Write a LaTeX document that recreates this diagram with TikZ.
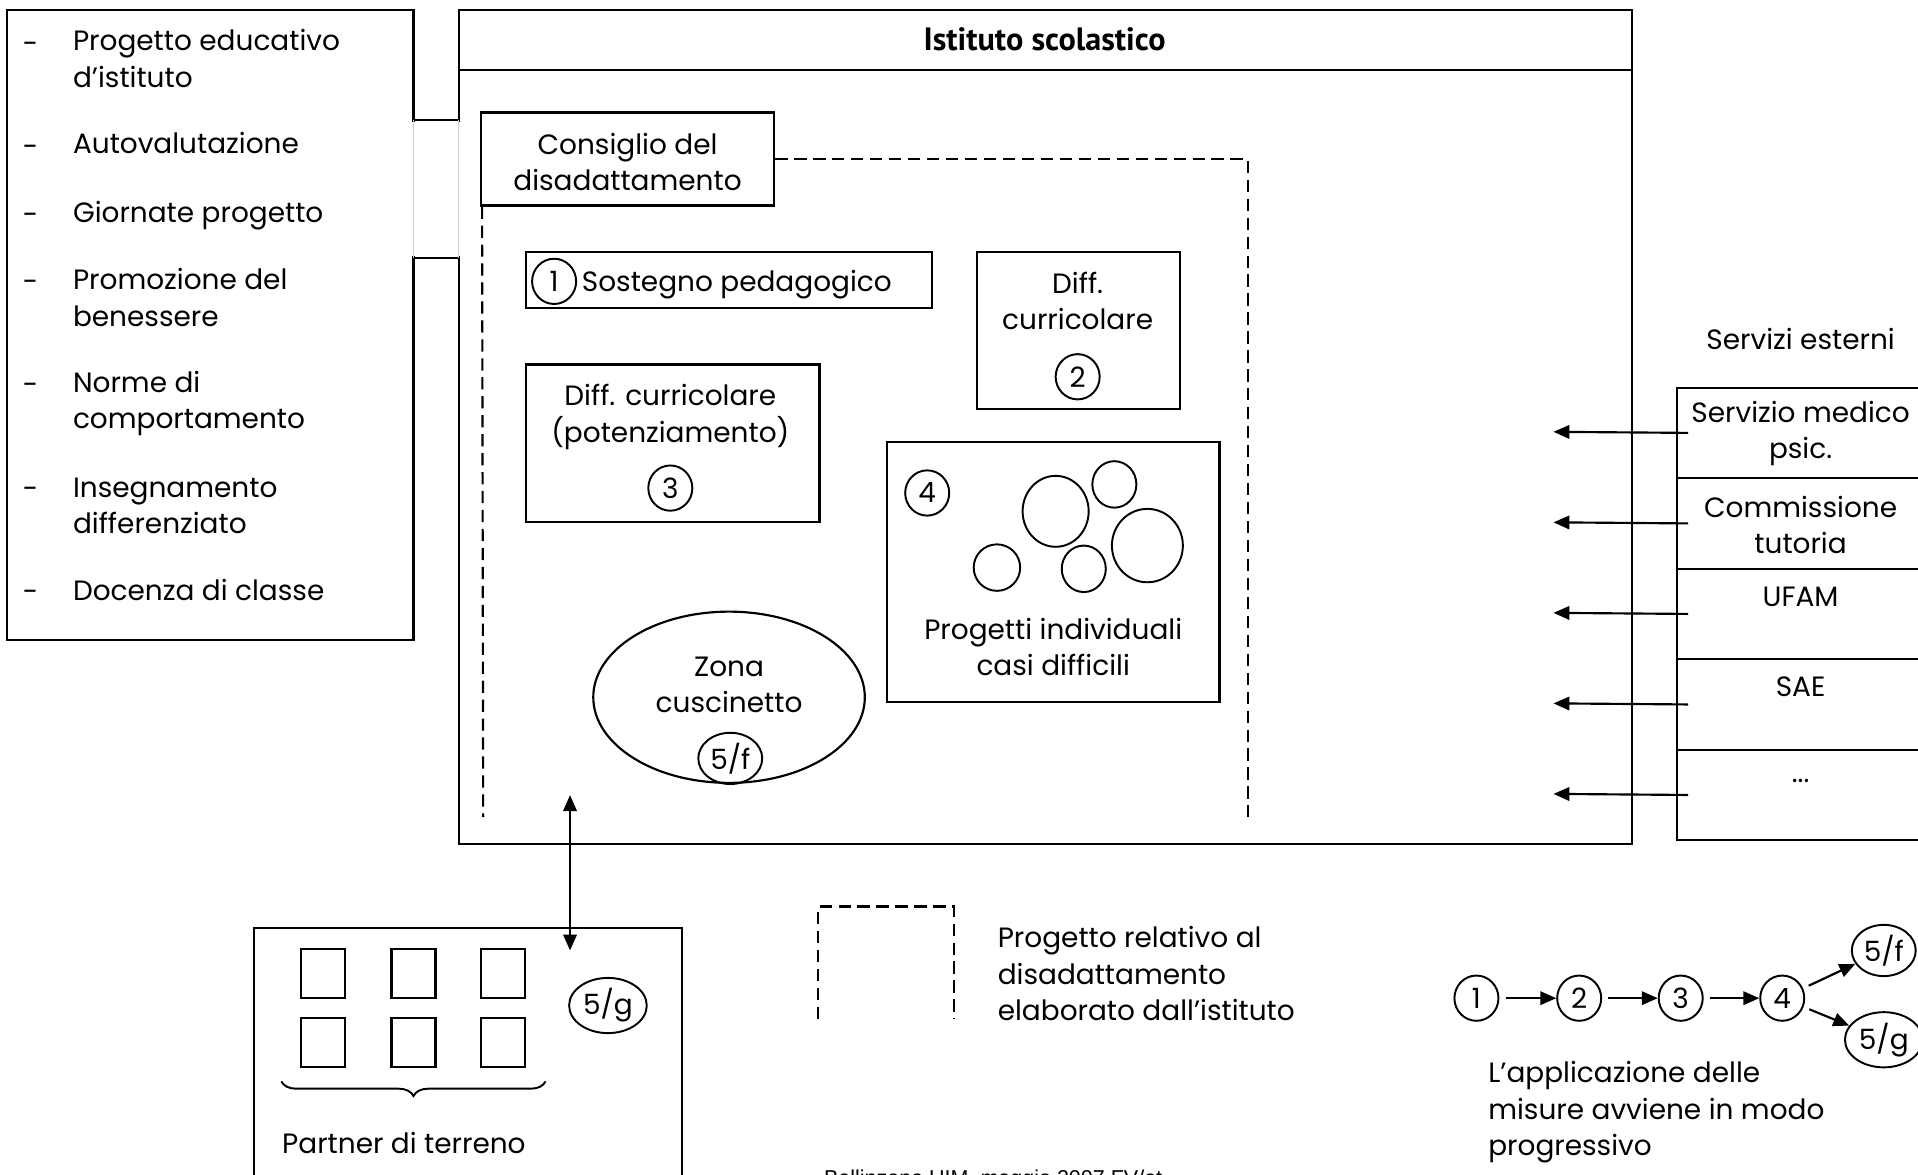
\documentclass[tikz,border=0pt]{standalone}
\usepackage{fontspec}
\setmainfont{Poppins}
\newfontfamily\titolofont{PT Sans}
\newfontfamily\piedefont{Liberation Sans}
\usetikzlibrary{shapes.geometric,arrows.meta,decorations.pathreplacing,calc}

\tikzset{
  testo/.style={font=\fontsize{6.5}{8.5}\selectfont, inner sep=0pt},
  riquadro/.style={draw, line width=0.5pt, inner sep=0pt},
  numero/.style={draw, ellipse, line width=0.45pt, inner sep=0.6pt, minimum width=0.36cm, minimum height=0.37cm, font=\fontsize{6.5}{8.5}\selectfont},
  tratteggio/.style={line width=0.5pt, dash pattern=on 1mm off 0.55mm},
  freccia/.style={->, line width=0.5pt},
}

\begin{document}
\begin{tikzpicture}[>={Triangle[length=1.3mm,width=1.1mm]}]
    \useasboundingbox (0,0) rectangle (15.68,-9.60);

    %%%%%%%%% Elenco a sinistra %%%%%%%%%
    \node[riquadro, minimum width=3.32cm, minimum height=5.15cm] (lista) at (1.72,-2.655) {};
    \node[testo] (t1) at (0.25,-0.39) {-};
    \node[testo, anchor=west, align=left] (v1) at (0.59,-0.48) {Progetto educativo\\d’istituto};
    \node[testo] (t2) at (0.25,-1.23) {-};
    \node[testo, anchor=west] (v2) at (0.59,-1.17) {Autovalutazione};
    \node[testo] (t3) at (0.25,-1.79) {-};
    \node[testo, anchor=west] (v3) at (0.59,-1.76) {Giornate progetto};
    \node[testo] (t4) at (0.25,-2.34) {-};
    \node[testo, anchor=west, align=left] (v4) at (0.59,-2.43) {Promozione del\\benessere};
    \node[testo] (t5) at (0.25,-3.18) {-};
    \node[testo, anchor=west, align=left] (v5) at (0.59,-3.30) {Norme di\\comportamento};
    \node[testo] (t6) at (0.25,-4.03) {-};
    \node[testo, anchor=west, align=left] (v6) at (0.59,-4.135) {Insegnamento\\differenziato};
    \node[testo] (t7) at (0.25,-4.87) {-};
    \node[testo, anchor=west] (v7) at (0.59,-4.82) {Docenza di classe};

    %%%%%%%%% Istituto %%%%%%%%%
    \node[riquadro, minimum width=9.59cm, minimum height=6.82cm] (istituto) at (8.545,-3.49) {};
    \draw[line width=0.5pt] (istituto.west |- 0,-0.57) -- (istituto.east |- 0,-0.57);
    \node[testo, font=\titolofont\bfseries\fontsize{7.5}{8}\selectfont] (titolo) at (8.54,-0.32) {Istituto scolastico};

    % passaggio tra i due riquadri
    \draw[white, line width=1.5pt] (3.38,-1.00) -- (3.38,-2.09);
    \draw[white, line width=1.5pt] (3.75,-1.00) -- (3.75,-2.09);
    \draw[gray!40, line width=0.3pt] (3.38,-0.98) -- (3.38,-2.11);
    \draw[gray!40, line width=0.3pt] (3.75,-0.98) -- (3.75,-2.11);
    \draw[line width=0.5pt] (lista.east |- 0,-0.98) -- (istituto.west |- 0,-0.98);
    \draw[line width=0.5pt] (lista.east |- 0,-2.11) -- (istituto.west |- 0,-2.11);

    %%%%%%%%% Consiglio e progetto %%%%%%%%%
    \node[riquadro, minimum width=2.40cm, minimum height=0.76cm] (consiglio) at (5.13,-1.30) {};
    \node[testo, align=center] (consigliotxt) at (5.13,-1.325) {Consiglio del\\disadattamento};
    \draw[tratteggio] (consiglio.east) -- (10.20,-1.30) -- (10.20,-6.68);
    \draw[tratteggio] ($(consiglio.south west)+(0.02,0)$) -- (3.95,-6.68);

    \node[riquadro, minimum width=3.32cm, minimum height=0.46cm] (sostegno) at (5.96,-2.29) {};
    \node[numero] (n1) at (4.53,-2.30) {1};
    \node[testo, anchor=west] (sostegnotxt) at (4.75,-2.33) {Sostegno pedagogico};

    \node[riquadro, minimum width=1.66cm, minimum height=1.28cm] (diffcurr) at (8.82,-2.70) {};
    \node[testo, align=center] (diffcurrtxt) at (8.81,-2.46) {Diff.\\curricolare};
    \node[numero] (n2) at (8.81,-3.08) {2};

    \node[riquadro, minimum width=2.40cm, minimum height=1.29cm] (potenz) at (5.50,-3.625) {};
    \node[testo, align=center] (potenztxt) at (5.48,-3.41) {Diff. curricolare\\(potenziamento)};
    \node[numero] (n3) at (5.48,-3.99) {3};

    \node[riquadro, minimum width=2.72cm, minimum height=2.13cm] (progind) at (8.61,-4.675) {};
    \node[numero] (n4) at (7.58,-4.03) {4};
    \draw[line width=0.45pt] (8.63,-4.18) ellipse (0.27 and 0.29);
    \draw[line width=0.45pt] (9.11,-3.96) ellipse (0.18 and 0.19);
    \draw[line width=0.45pt] (9.38,-4.46) ellipse (0.29 and 0.30);
    \draw[line width=0.45pt] (8.15,-4.64) ellipse (0.19 and 0.19);
    \draw[line width=0.45pt] (8.86,-4.65) ellipse (0.18 and 0.19);
    \node[testo, align=center] (progindtxt) at (8.61,-5.29) {Progetti individuali\\casi difficili};

    \node[draw, ellipse, line width=0.5pt, minimum width=2.22cm, minimum height=1.40cm] (zona) at (5.96,-5.70) {};
    \node[testo, align=center] (zonatxt) at (5.96,-5.60) {Zona\\cuscinetto};
    \node[numero] (n5f) at (5.97,-6.20) {5/f};

    %%%%%%%%% Servizi esterni %%%%%%%%%
    \node[testo] (servtit) at (14.72,-2.77) {Servizi esterni};
    \node[riquadro, minimum width=2.04cm, minimum height=0.74cm, anchor=north west] (serv1) at (13.70,-3.16) {};
    \node[riquadro, minimum width=2.04cm, minimum height=0.74cm, anchor=north west] (serv2) at (13.70,-3.90) {};
    \node[riquadro, minimum width=2.04cm, minimum height=0.74cm, anchor=north west] (serv3) at (13.70,-4.64) {};
    \node[riquadro, minimum width=2.04cm, minimum height=0.74cm, anchor=north west] (serv4) at (13.70,-5.38) {};
    \node[riquadro, minimum width=2.04cm, minimum height=0.74cm, anchor=north west] (serv5) at (13.70,-6.12) {};
    \node[testo, align=center] (serv1txt) at (14.72,-3.545) {Servizio medico\\psic.};
    \node[testo, align=center] (serv2txt) at (14.72,-4.29) {Commissione\\tutoria};
    \node[testo] (serv3txt) at (14.72,-4.88) {UFAM};
    \node[testo] (serv4txt) at (14.72,-5.61) {SAE};
    \node[testo, anchor=base] (serv5txt) at (14.72,-6.40) {...};

    %%%%%%%%% Frecce %%%%%%%%%
    \coordinate (a1) at ($(serv1.west)+(0.10,0)$);
    \coordinate (a2) at ($(serv2.west)+(0.10,0)$);
    \coordinate (a3) at ($(serv3.west)+(0.10,0)$);
    \coordinate (a4) at ($(serv4.west)+(0.10,0)$);
    \coordinate (a5) at ($(serv5.west)+(0.10,0)$);
    \coordinate (b1) at (12.70,-3.53);
    \coordinate (b2) at (12.70,-4.27);
    \coordinate (b3) at (12.70,-5.01);
    \coordinate (b4) at (12.70,-5.75);
    \coordinate (b5) at (12.70,-6.49);
    \draw[freccia] (a1) -- (b1);
    \draw[freccia] (a2) -- (b2);
    \draw[freccia] (a3) -- (b3);
    \draw[freccia] (a4) -- (b4);
    \draw[freccia] (a5) -- (b5);

    \coordinate (su) at (4.66,-6.50);
    \coordinate (giu) at (4.66,-7.77);
    \draw[<->, line width=0.5pt] (su) -- (giu);

    %%%%%%%%% Partner di terreno %%%%%%%%%
    \node[riquadro, minimum width=3.50cm, minimum height=2.30cm, anchor=north west] (partner) at (2.07,-7.58) {};
    \node[riquadro, minimum width=0.36cm, minimum height=0.40cm] (q1) at (2.64,-7.96) {};
    \node[riquadro, minimum width=0.36cm, minimum height=0.40cm] (q2) at (3.38,-7.96) {};
    \node[riquadro, minimum width=0.36cm, minimum height=0.40cm] (q3) at (4.11,-7.96) {};
    \node[riquadro, minimum width=0.36cm, minimum height=0.40cm] (q4) at (2.64,-8.52) {};
    \node[riquadro, minimum width=0.36cm, minimum height=0.40cm] (q5) at (3.38,-8.52) {};
    \node[riquadro, minimum width=0.36cm, minimum height=0.40cm] (q6) at (4.11,-8.52) {};
    \draw[decorate, decoration={brace, mirror, amplitude=0.12cm}, line width=0.45pt] (2.30,-8.84) -- (4.46,-8.84);
    \node[testo, anchor=west] (partnertxt) at (2.30,-9.34) {Partner di terreno};
    \node[numero] (n5g) at (4.97,-8.22) {5/g};

    %%%%%%%%% Legenda %%%%%%%%%
    \draw[tratteggio] (6.69,-8.33) -- (6.69,-7.41) -- (7.80,-7.41) -- (7.80,-8.33);
    \node[testo, anchor=west, align=left] (legenda) at (8.15,-7.96) {Progetto relativo al\\disadattamento\\elaborato dall’istituto};

    %%%%%%%%% Sequenza %%%%%%%%%
    \node[numero] (p1) at (12.07,-8.16) {1};
    \node[numero] (p2) at (12.91,-8.16) {2};
    \node[numero] (p3) at (13.74,-8.16) {3};
    \node[numero] (p4) at (14.57,-8.16) {4};
    \node[numero] (p5f) at (15.40,-7.77) {5/f};
    \node[numero] (p5g) at (15.40,-8.50) {5/g};
    \draw[freccia, shorten <=0.5mm] (p1) -- (p2);
    \draw[freccia, shorten <=0.5mm] (p2) -- (p3);
    \draw[freccia, shorten <=0.5mm] (p3) -- (p4);
    \draw[freccia, shorten <=0.5mm] (p4) -- (p5f);
    \draw[freccia, shorten <=0.5mm] (p4) -- (p5g);
    \node[testo, anchor=west, align=left] (applic) at (12.16,-9.095) {L’applicazione delle\\misure avviene in modo\\progressivo};

    \node[testo, font=\piedefont\fontsize{5}{6}\selectfont, anchor=base west] (piede) at (6.73,-9.69) {Bellinzona UIM, maggio 2007 FV/et};
\end{tikzpicture}
\end{document}
